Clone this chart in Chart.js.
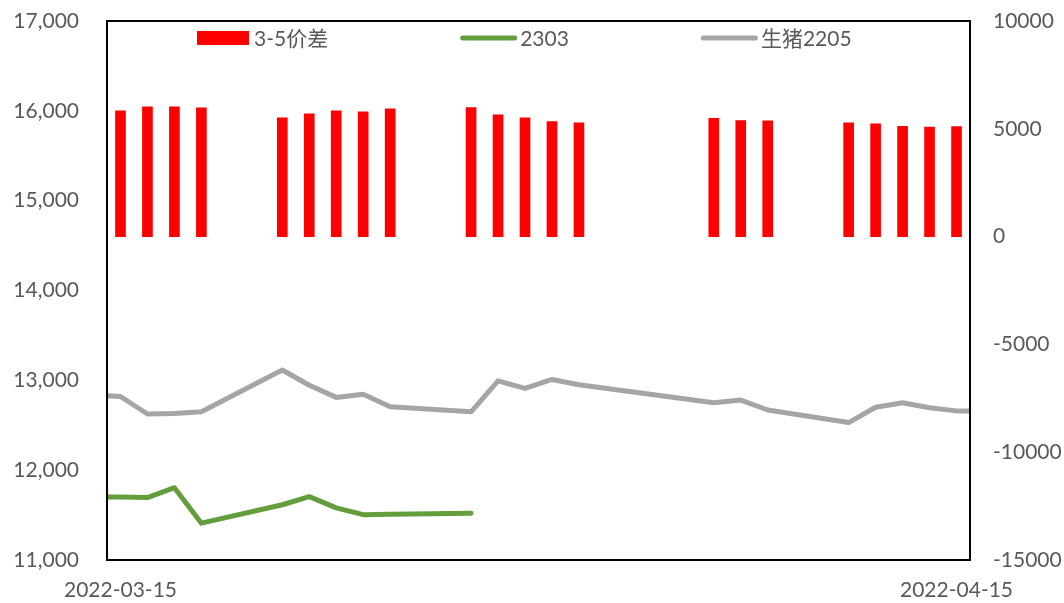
<!DOCTYPE html>
<html>
<head>
<meta charset="utf-8">
<title>3-5价差</title>
<script src="https://cdn.jsdelivr.net/npm/chart.js@4"></script>
<style>
    html, body { margin: 0; padding: 0; background: #fff; }
    canvas { display: block; }
</style>
</head>
<body>
<canvas id="spreadChart" width="1064" height="603"></canvas>
<script>
// trading days (3/14 and 4/18 sit just outside the visible range, lines run into the frame)
const tradeDates = [
    '2022-03-14', '2022-03-15', '2022-03-16', '2022-03-17', '2022-03-18',
    '2022-03-21', '2022-03-22', '2022-03-23', '2022-03-24', '2022-03-25',
    '2022-03-28', '2022-03-29', '2022-03-30', '2022-03-31', '2022-04-01',
    '2022-04-06', '2022-04-07', '2022-04-08',
    '2022-04-11', '2022-04-12', '2022-04-13', '2022-04-14', '2022-04-15',
    '2022-04-18',
];

const spread35 = [
    null, 5830, 6020, 6020, 5970,
    5510, 5690, 5830, 5790, 5930,
    5990, 5650, 5510, 5340, 5280,
    5480, 5380, 5370,
    5280, 5230, 5120, 5075, 5105,
    null,
];

const lh2303 = [
    11700, 11700, 11695, 11805, 11410,
    11615, 11705, 11580, 11505, 11510,
    11520, null, null, null, null,
    null, null, null,
    null, null, null, null, null,
    null,
];

const lh2205 = [
    12835, 12820, 12625, 12630, 12650,
    13115, 12945, 12810, 12845, 12705,
    12650, 12995, 12910, 13010, 12950,
    12750, 12780, 12670,
    12530, 12700, 12750, 12695, 12660,
    12660,
];

const axisStart = '2022-03-15';
const axisEnd = '2022-04-15';
const leftTicks = { min: 11000, max: 17000, step: 1000 };
const rightTicks = { min: -15000, max: 10000, step: 5000 };

const FONT = "Lato, 'Noto Sans CJK SC', sans-serif";
const FONT_SIZE = 21;
const TEXT_COLOR = '#595959';
const RED = '#FF0000';
const GREEN = '#649E3C';
const GRAY = '#A5A5A5';

const DAY = 86400000;

function toUTC(str) {
    const [y, m, d] = str.split('-').map(Number);
    return Date.UTC(y, m - 1, d);
}

function dayIndex(str) {
    return (toUTC(str) - toUTC(axisStart)) / DAY;
}

function formatDay(idx) {
    return new Date(toUTC(axisStart) + idx * DAY).toISOString().slice(0, 10);
}

function points(values) {
    return tradeDates.map((d, i) => ({ x: dayIndex(d), y: values[i] }));
}

const barPoints = tradeDates
    .map((d, i) => ({ x: dayIndex(d), y: spread35[i] }))
    .filter((p) => p.y !== null);

// fixed axis sizes so the plot box lands where we want it;
// tick padding should not push the plot area down
function fixWidth(width) {
    return (scale) => {
        scale.width = width;
        scale.paddingTop = 0;
        scale.paddingBottom = 0;
    };
}

// black box around the plot area
const plotFrame = {
    id: 'plotFrame',
    afterDatasetsDraw(chart) {
        const { ctx, chartArea } = chart;
        ctx.save();
        ctx.strokeStyle = '#000';
        ctx.lineWidth = 2;
        ctx.strokeRect(chartArea.left, chartArea.top, chartArea.right - chartArea.left, chartArea.bottom - chartArea.top);
        ctx.restore();
    },
};

// legend row drawn inside the top of the plot area
const inlineLegend = {
    id: 'inlineLegend',
    afterDraw(chart) {
        const { ctx, chartArea } = chart;
        const y = chartArea.top + 17;
        let x = chartArea.left + 90;

        ctx.save();
        ctx.font = `${FONT_SIZE}px ${FONT}`;
        ctx.textBaseline = 'middle';
        ctx.textAlign = 'left';

        chart.data.datasets.forEach((ds) => {
            if (ds.type === 'bar') {
                ctx.fillStyle = ds.backgroundColor;
                ctx.fillRect(x, y - 7, 52, 14);
                x += 57;
            } else {
                ctx.strokeStyle = ds.borderColor;
                ctx.lineWidth = ds.borderWidth;
                ctx.lineCap = 'round';
                ctx.beginPath();
                ctx.moveTo(x + 2.5, y);
                ctx.lineTo(x + 54.5, y);
                ctx.stroke();
                x += 60;
            }
            ctx.fillStyle = TEXT_COLOR;
            ctx.fillText(ds.label, x, y + 1);
            x += ctx.measureText(ds.label).width + 132;
        });
        ctx.restore();
    },
};

const ctx = document.getElementById('spreadChart');

new Chart(ctx, {
    type: 'bar',
    data: {
        datasets: [
            {
                type: 'bar',
                label: '3-5价差',
                data: barPoints,
                yAxisID: 'y1',
                backgroundColor: RED,
                borderWidth: 0,
                barThickness: 10,
            },
            {
                type: 'line',
                label: '2303',
                data: points(lh2303),
                yAxisID: 'y',
                borderColor: GREEN,
                backgroundColor: GREEN,
                borderWidth: 5,
                borderCapStyle: 'round',
                borderJoinStyle: 'round',
                pointRadius: 0,
                tension: 0,
                spanGaps: false,
            },
            {
                type: 'line',
                label: '生猪2205',
                data: points(lh2205),
                yAxisID: 'y',
                borderColor: GRAY,
                backgroundColor: GRAY,
                borderWidth: 5,
                borderCapStyle: 'round',
                borderJoinStyle: 'round',
                pointRadius: 0,
                tension: 0,
            },
        ],
    },
    options: {
        responsive: false,
        animation: false,
        devicePixelRatio: 1,
        layout: { padding: { top: 21, left: 0, right: 0, bottom: 0 } },
        font: { family: FONT, size: FONT_SIZE },
        color: TEXT_COLOR,
        plugins: {
            legend: { display: false },
            tooltip: { enabled: false },
        },
        scales: {
            x: {
                type: 'linear',
                position: 'bottom',
                offset: false,
                min: dayIndex(axisStart) - 0.5,
                max: dayIndex(axisEnd) + 0.5,
                grid: { display: false, drawTicks: false },
                border: { display: false },
                afterBuildTicks(scale) {
                    scale.ticks = [{ value: dayIndex(axisStart) }, { value: dayIndex(axisEnd) }];
                },
                afterFit(scale) {
                    scale.height = 43;
                },
                ticks: {
                    autoSkip: false,
                    maxRotation: 0,
                    padding: 18,
                    color: TEXT_COLOR,
                    font: { family: FONT, size: FONT_SIZE },
                    callback: (value) => formatDay(value),
                },
            },
            y: {
                type: 'linear',
                position: 'left',
                min: leftTicks.min,
                max: leftTicks.max,
                grid: { display: false, drawTicks: false },
                border: { display: false },
                afterFit: fixWidth(107),
                ticks: {
                    stepSize: leftTicks.step,
                    padding: 28,
                    color: TEXT_COLOR,
                    font: { family: FONT, size: FONT_SIZE },
                    callback: (value) => value.toLocaleString('en-US'),
                },
            },
            y1: {
                type: 'linear',
                position: 'right',
                min: rightTicks.min,
                max: rightTicks.max,
                grid: { display: false, drawTicks: false },
                border: { display: false },
                afterFit: fixWidth(94),
                ticks: {
                    stepSize: rightTicks.step,
                    padding: 23,
                    color: TEXT_COLOR,
                    font: { family: FONT, size: FONT_SIZE },
                    callback: (value) => String(value),
                },
            },
        },
    },
    plugins: [plotFrame, inlineLegend],
});
</script>
</body>
</html>
